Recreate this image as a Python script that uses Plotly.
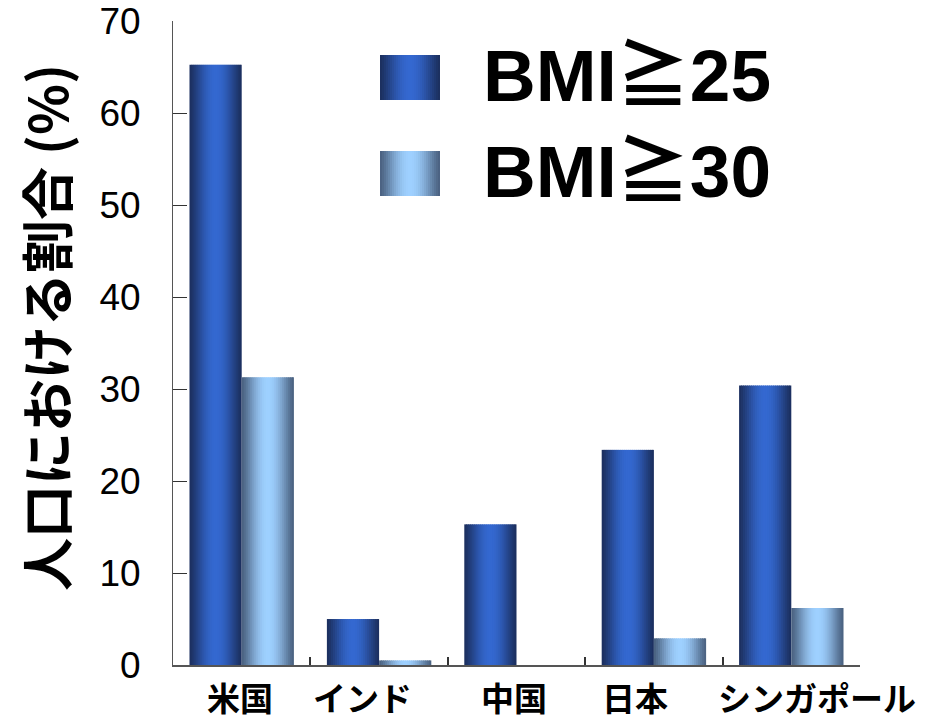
import numpy as np
import plotly.graph_objects as go

# Share of population (%) by country and BMI threshold
countries = ["米国", "インド", "中国", "日本", "シンガポール"]
bmi25 = [65.3, 5.0, 15.3, 23.4, 30.4]
bmi30 = [31.3, 0.5, 0.0, 2.9, 6.2]
series_names = ["BMI≧25", "BMI≧30"]
yticks = [0, 10, 20, 30, 40, 50, 60, 70]

# horizontal nudge (px) of each country label under its group
label_shift = [-2, -17, -3, -19, 26]

W, H = 930, 721
ML, MR, MT, MB = 173, 70, 21, 56
PW, PH = W - ML - MR, H - MT - MB

# edge / centre colours of the cylinder-style shading
DARK = ((27, 47, 94), (52, 104, 208))
LIGHT = ((74, 97, 128), (158, 208, 255))

N_SLICES = 26
BAR_W = 0.38


def shade(pair, t):
    edge, mid = pair
    f = np.sin(np.pi * t) ** 1.3
    r, g, b = (int(round(e + (m - e) * f)) for e, m in zip(edge, mid))
    return f"rgb({r},{g},{b})"


def px_x(p):
    return (p - ML) / PW


def px_y(p):
    return (H - MB - p) / PH


fig = go.Figure()

# each bar is drawn as thin vertical strips to give a horizontal gradient
for vals, pal, base in [(bmi25, DARK, -BAR_W), (bmi30, LIGHT, 0.0)]:
    step = BAR_W / N_SLICES
    for i in range(N_SLICES):
        t = (i + 0.5) / N_SLICES
        off = base + i * step
        w = min(step * 1.4, base + BAR_W - off)
        fig.add_trace(go.Bar(
            x=countries, y=vals, width=w, offset=off,
            marker=dict(color=shade(pal, t), line=dict(width=0)),
            showlegend=False, hoverinfo="skip",
        ))

# legend: gradient swatches and large labels
shapes = []
annotations = []
legend_rows = [(series_names[0], DARK, 55, 100, 76), (series_names[1], LIGHT, 151, 196, 171)]
sx0, sx1 = 380, 440
for name, pal, y0, y1, yc in legend_rows:
    n = 30
    for i in range(n):
        a = sx0 + (sx1 - sx0) * i / n
        b = sx0 + (sx1 - sx0) * (i + 1) / n + 0.6
        shapes.append(dict(
            type="rect", xref="paper", yref="paper",
            x0=px_x(a), x1=px_x(min(b, sx1)), y0=px_y(y1), y1=px_y(y0),
            fillcolor=shade(pal, (i + 0.5) / n), line=dict(width=0), layer="above",
        ))
    annotations.append(dict(
        text=name, xref="paper", yref="paper", x=px_x(481), y=px_y(yc),
        xanchor="left", yanchor="middle", showarrow=False,
        font=dict(family="Liberation Sans, Noto Sans CJK JP", size=73,
                  color="black", weight="bold"),
    ))

# country labels under each group
for name, dx in zip(countries, label_shift):
    annotations.append(dict(
        text=name, xref="x", yref="paper", x=name, y=px_y(697),
        xanchor="center", yanchor="middle", xshift=dx, showarrow=False,
        font=dict(family="Noto Sans CJK JP", size=33, color="black", weight="bold"),
    ))

annotations.append(dict(
    text="人口における割合 (%)", xref="paper", yref="paper",
    x=px_x(45), y=px_y(328), xanchor="center", yanchor="middle",
    textangle=-90, showarrow=False,
    font=dict(family="Noto Sans CJK JP", size=53, color="black", weight="bold"),
))

fig.update_layout(
    width=W, height=H,
    margin=dict(l=ML, r=MR, t=MT, b=MB, pad=0, autoexpand=False),
    paper_bgcolor="white", plot_bgcolor="white",
    barmode="overlay",
    shapes=shapes, annotations=annotations,
    showlegend=False,
)

fig.update_xaxes(
    type="category", range=[-0.5, 4.5], automargin=False,
    tickson="boundaries", ticks="inside", ticklen=8, tickwidth=1.5, tickcolor="#333",
    showline=True, linecolor="#555", linewidth=1.5, showgrid=False,
    showticklabels=False,
)
fig.update_yaxes(
    range=[0, 70.05], tickvals=yticks, ticks="inside", ticklen=14, tickwidth=1,
    tickcolor="#333", showline=True, linecolor="#555", linewidth=1, automargin=False,
    showgrid=False, zeroline=False, ticklabelstandoff=24, ticklabeloverflow="allow",
    tickfont=dict(family="Liberation Sans", size=37, color="black"),
)

fig.write_html("out.html")
